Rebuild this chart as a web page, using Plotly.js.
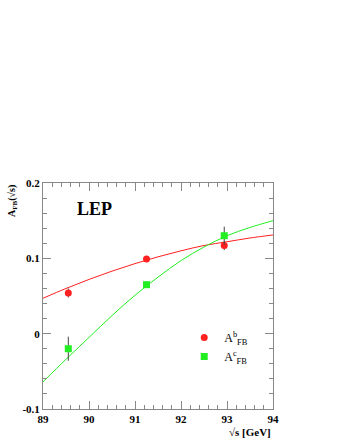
<!DOCTYPE html>
<html>
<head>
<meta charset="utf-8">
<script src="https://cdn.plot.ly/plotly-3.0.1.min.js"></script>
<style>
  body { margin: 0; background: #fff; }
  #myPlot { width: 340px; height: 440px; }
</style>
</head>
<body>
<div id="myPlot"></div>
<script>
// measured points (sqrt(s) in GeV)
const energies = [89.55, 91.25, 92.94];
const afbB = [0.054, 0.099, 0.117];
const afbBErr = [0.006, 0.003, 0.006];
const afbC = [-0.020, 0.065, 0.130];
const afbCErr = [0.016, 0.004, 0.012];

// predicted curves
const curveX = [89, 89.5, 90, 90.5, 91, 91.5, 92, 92.5, 93, 93.5, 94];
const curveB = [0.047, 0.060, 0.072, 0.083, 0.093, 0.102, 0.110, 0.117, 0.122, 0.127, 0.131];
const curveC = [-0.064, -0.034, -0.005, 0.024, 0.051, 0.075, 0.097, 0.115, 0.130, 0.141, 0.150];

// tick labels
const xTicks = [89, 90, 91, 92, 93, 94];
const xTickText = ['89', '90', '91', '92', '93', '94'];
const yTicks = [-0.1, 0, 0.1, 0.2];
const yTickText = ['-0.1', '0', '0.1', '0.2'];

const red = '#ff2020';
const green = '#22ee22';
const serif = 'Liberation Serif, Times New Roman, serif';

const data = [
    { x: curveX, y: curveB, mode: 'lines', line: { color: red, width: 1, shape: 'spline' },
      showlegend: false, hoverinfo: 'skip' },
    { x: curveX, y: curveC, mode: 'lines', line: { color: green, width: 1, shape: 'spline' },
      showlegend: false, hoverinfo: 'skip' },
    { x: energies, y: afbB, mode: 'markers', name: 'A<sup>b</sup><sub>FB</sub>',
      marker: { color: red, size: 7, symbol: 'circle' },
      error_y: { type: 'data', array: afbBErr, color: '#444', thickness: 1, width: 0 } },
    { x: energies, y: afbC, mode: 'markers', name: 'A<sup>c</sup><sub>FB</sub>',
      marker: { color: green, size: 7, symbol: 'square' },
      error_y: { type: 'data', array: afbCErr, color: '#444', thickness: 1, width: 0 } }
];

const axisStyle = {
    showgrid: false, zeroline: false, showline: true, linecolor: '#888', linewidth: 1,
    mirror: 'ticks', ticks: 'inside', ticklen: 8, tickcolor: '#888',
    tickfont: { family: serif, size: 11, color: '#000' }
};

const layout = {
    width: 340, height: 440,
    margin: { l: 43, r: 67, t: 183, b: 30.5 },
    paper_bgcolor: '#fff', plot_bgcolor: '#fff',
    showlegend: true,
    legend: { x: 0.614, y: 0.38, xanchor: 'left', yanchor: 'top', bgcolor: 'rgba(0,0,0,0)',
              font: { family: serif, size: 12, color: '#000' }, tracegroupgap: 4, itemwidth: 30 },
    xaxis: Object.assign({}, axisStyle, {
        range: [89, 94], tickmode: 'array', tickvals: xTicks,
        ticktext: xTickText.map(t => '<b>' + t + '</b>'),
        minor: { dtick: 0.2, tick0: 89, ticks: 'inside', ticklen: 4, tickcolor: '#888' }
    }),
    yaxis: Object.assign({}, axisStyle, {
        range: [-0.1, 0.2], tickmode: 'array', tickvals: yTicks,
        ticktext: yTickText.map(t => '<b>' + t + '</b>'),
        minor: { dtick: 0.02, tick0: -0.1, ticks: 'inside', ticklen: 4, tickcolor: '#888' }
    }),
    annotations: [
        { text: '<b>LEP</b>', xref: 'paper', yref: 'paper', x: 0.14, y: 0.885,
          xanchor: 'left', yanchor: 'middle', showarrow: false,
          font: { family: serif, size: 18, color: '#000' } },
        { text: '<b>√s [GeV]</b>', xref: 'paper', yref: 'paper', x: 1, y: -0.1,
          xanchor: 'right', yanchor: 'middle', showarrow: false,
          font: { family: serif, size: 11, color: '#000' } },
        { text: '<b>A<sub>FB</sub>(√s)</b>', xref: 'paper', yref: 'paper', x: -0.135, y: 1,
          xanchor: 'center', yanchor: 'top', textangle: -90, showarrow: false,
          font: { family: serif, size: 10, color: '#000' } }
    ]
};

Plotly.newPlot('myPlot', data, layout, { staticPlot: true });
</script>
</body>
</html>
